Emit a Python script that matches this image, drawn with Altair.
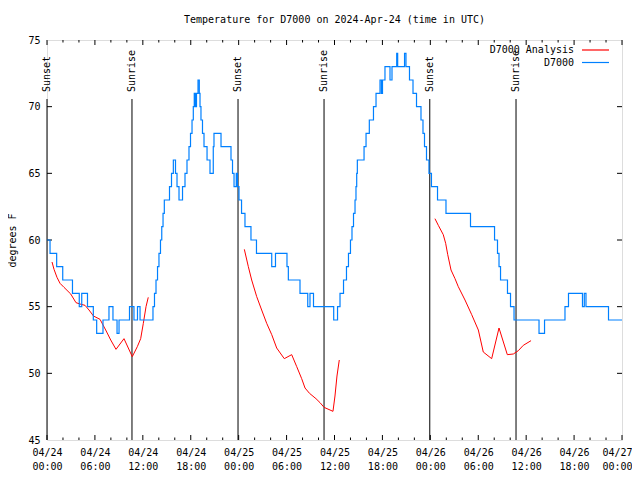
import altair as alt
import pandas as pd

FONT = "DejaVu Sans Mono"
W, H = 575, 400
BASE = pd.Timestamp("2024-04-24T00:00:00Z")

# ---- D7000 observations: change points (hours after 04/24 00:00 UTC, deg F)
obs_hours = [
    0.00, 0.38, 1.21, 1.97, 3.19, 4.04, 4.35, 5.07, 5.80, 6.22,
    7.01, 7.76, 8.26, 8.77, 9.02, 10.33, 10.89, 11.33, 11.65, 13.27,
    13.46, 13.65, 13.84, 14.02, 14.21, 14.37, 14.53, 14.69, 15.34, 15.59,
    15.82, 16.09, 16.28, 16.53, 16.97, 17.28, 17.53, 17.78, 17.97, 18.16,
    18.32, 18.44, 18.59, 18.72, 18.91, 19.07, 19.16, 19.28, 19.47, 19.66,
    20.04, 20.41, 20.82, 20.91, 21.79, 23.04, 23.23, 23.42, 23.70, 23.85,
    24.04, 24.36, 24.79, 25.54, 26.23, 28.14, 28.61, 30.05, 30.22, 31.68,
    32.65, 32.93, 33.37, 35.90, 36.38, 36.69, 37.13, 37.50, 37.75, 38.00,
    38.19, 38.38, 38.57, 38.69, 38.78, 38.86, 39.70, 39.95, 40.36, 40.88,
    41.20, 41.70, 41.88, 42.01, 42.32, 42.95, 43.20, 43.79, 43.91, 44.77,
    44.95, 45.39, 45.83, 46.27, 46.83, 47.08, 47.27, 47.52, 47.83, 48.14,
    48.90, 49.96, 53.03, 56.04, 56.41, 56.60, 56.79, 57.66, 58.04, 58.48,
    61.61, 62.30, 64.86, 65.30, 67.05, 67.28, 67.49, 70.31, 72.00,
]
obs_temp = [
    60, 59, 58, 57, 56, 55, 56, 55, 54, 53,
    54, 55, 54, 53, 54, 55, 54, 55, 54, 55,
    56, 57, 58, 59, 60, 61, 62, 63, 64, 65,
    66, 65, 64, 63, 64, 65, 66, 67, 68, 69,
    70, 71, 70, 71, 72, 71, 70, 69, 68, 67,
    66, 65, 67, 68, 67, 66, 65, 64, 65, 64,
    63, 62, 61, 60, 59, 58, 59, 58, 57, 56,
    55, 56, 55, 54, 55, 56, 57, 58, 59, 60,
    61, 62, 63, 64, 65, 66, 67, 68, 69, 70,
    71, 72, 71, 72, 73, 72, 73, 74, 73, 74,
    73, 72, 71, 70, 69, 68, 67, 66, 65, 64,
    63, 62, 61, 60, 59, 58, 57, 56, 55, 54,
    53, 54, 55, 56, 55, 56, 55, 54, 54,
]

# ---- D7000 Analysis: three separate runs
ana1_hours = [0.63, 0.88, 1.25, 1.63, 2.13, 2.97, 3.63, 4.13, 4.76, 5.26, 5.82,
              6.64, 7.35, 7.98, 8.64, 9.64, 10.68, 11.31, 11.73, 12.06, 12.40, 12.68]
ana1_temp = [58.35, 57.8, 57.2, 56.75, 56.45, 55.95, 55.3, 55.2, 55.1, 54.75, 54.3,
             54.05, 53.25, 52.5, 51.8, 52.6, 51.25, 52.0, 52.6, 53.75, 55.0, 55.7]
ana2_hours = [24.71, 25.21, 25.63, 26.26, 26.88, 27.51, 28.14, 28.76, 29.71, 30.64, 31.27,
              31.89, 32.31, 32.87, 33.68, 34.19, 34.69, 35.44, 35.81, 36.06, 36.31, 36.60]
ana2_temp = [59.3, 58.0, 57.0, 55.75, 54.75, 53.75, 52.9, 51.9, 51.1, 51.4, 50.5,
             49.6, 48.9, 48.5, 48.1, 47.8, 47.45, 47.25, 47.15, 48.3, 49.8, 51.0]
ana3_hours = [48.58, 49.00, 49.62, 49.92, 50.18, 50.59, 51.09, 51.50, 52.34, 53.18,
              54.01, 54.63, 55.68, 56.60, 57.64, 58.39, 59.02, 59.64, 60.61]
ana3_temp = [61.6, 61.1, 60.4, 59.75, 58.9, 57.75, 57.1, 56.5, 55.5, 54.4,
             53.25, 51.6, 51.1, 53.4, 51.4, 51.45, 51.7, 52.1, 52.45]

sun_hours = [0.0, 10.64, 23.92, 34.69, 47.93, 58.73]
sun_labels = ["Sunset", "Sunrise", "Sunset", "Sunrise", "Sunset", "Sunrise"]

series_names = ["D7000 Analysis", "D7000"]
series_colors = ["#ff0000", "#0080ff"]

x_major_hours = list(range(0, 73, 6))
x_minor_hours = [h for h in range(0, 73, 2) if h % 6 != 0]
y_values = [45, 50, 55, 60, 65, 70, 75]
y_inner = [50, 55, 60, 65, 70]

assert len(obs_hours) == len(obs_temp)


def iso(hours):
    return [(BASE + pd.to_timedelta(h, unit="h")).strftime("%Y-%m-%dT%H:%M:%SZ") for h in hours]


def ms(hours):
    return [int((BASE + pd.to_timedelta(h, unit="h")).timestamp() * 1000) for h in hours]


obs_df = pd.DataFrame({"time": iso(obs_hours), "temp": obs_temp, "series": "D7000"})
ana_df = pd.concat([
    pd.DataFrame({"time": iso(h), "temp": t, "series": "D7000 Analysis", "seg": i})
    for i, (h, t) in enumerate([(ana1_hours, ana1_temp), (ana2_hours, ana2_temp), (ana3_hours, ana3_temp)])
])
sun_df = pd.DataFrame({"time": iso(sun_hours), "label": sun_labels})
xmaj_df = pd.DataFrame({"time": iso(x_major_hours)})
xmin_df = pd.DataFrame({"time": iso(x_minor_hours)})
yt_df = pd.DataFrame({"temp": y_inner})
one = pd.DataFrame({"k": [0]})

last_ms = ms([72])[0]
x_scale = alt.Scale(type="utc", domain=ms([0, 72]), nice=False)
y_scale = alt.Scale(domain=[45, 75], nice=False, zero=False)
color_scale = alt.Scale(domain=series_names, range=series_colors)

x_axis = alt.Axis(
    title=None, values=ms(x_major_hours),
    labelExpr="[utcFormat(datum.value, '%m/%d'), utcFormat(datum.value, '%H:%M')]",
    ticks=False, domain=False, grid=False, labelFont=FONT, labelFontSize=10,
    labelColor="black", labelPadding=7, labelLineHeight=14, labelOverlap=False,
    labelFlush=False, labelBaseline="top", labelAlign="center",
    labelOffset={"condition": {"test": f"datum.value >= {last_ms}", "value": -5}, "value": 0},
)
y_axis = alt.Axis(
    title="degrees F", values=y_values, ticks=False, domain=False, grid=False,
    labelFont=FONT, labelFontSize=10, labelColor="black", labelPadding=7,
    titleFont=FONT, titleFontSize=10, titleFontWeight="normal", titleColor="black",
    titleX=-35, titleY=200, titleAngle=270, titleAlign="center", titleBaseline="middle",
)

X = alt.X("time:T", scale=x_scale, axis=x_axis)
Y = alt.Y("temp:Q", scale=y_scale, axis=y_axis)

blue = alt.Chart(obs_df).mark_line(interpolate="step-after", strokeWidth=1.2).encode(
    x=X, y=Y, color=alt.Color("series:N", scale=color_scale, legend=None))
red = alt.Chart(ana_df).mark_line(strokeWidth=1).encode(
    x=X, y=Y, detail="seg:N", color=alt.Color("series:N", scale=color_scale, legend=None))

sun_rule = alt.Chart(sun_df).mark_rule(color="black", strokeWidth=1).encode(
    x=X, y=alt.value(59), y2=alt.value(H))
sun_text = alt.Chart(sun_df).mark_text(
    angle=270, align="left", baseline="middle", font=FONT, fontSize=10, color="black"
).encode(x=X, y=alt.value(52), text="label:N")

ticks = []
for yy, y2 in [(H, H - 5), (0, 5)]:
    ticks.append(alt.Chart(xmaj_df).mark_rule(color="black").encode(x=X, y=alt.value(yy), y2=alt.value(y2)))
for yy, y2 in [(H, H - 2.5), (0, 2.5)]:
    ticks.append(alt.Chart(xmin_df).mark_rule(color="black").encode(x=X, y=alt.value(yy), y2=alt.value(y2)))
for xx, x2 in [(0, 5), (W, W - 5)]:
    ticks.append(alt.Chart(yt_df).mark_rule(color="black").encode(y=Y, x=alt.value(xx), x2=alt.value(x2)))

legend_layers = []
for i, (name, col) in enumerate(zip(series_names, series_colors)):
    yy = 10 + i * 12.5
    legend_layers.append(alt.Chart(one).mark_text(
        align="right", baseline="middle", font=FONT, fontSize=10, color="black"
    ).encode(x=alt.value(527), y=alt.value(yy), text=alt.value(name)))
    legend_layers.append(alt.Chart(one).mark_rule(color=col, strokeWidth=1.2).encode(
        x=alt.value(535), x2=alt.value(562), y=alt.value(yy)))

chart = alt.layer(
    sun_rule, sun_text, *ticks, red, blue, *legend_layers
).properties(
    width=W, height=H,
    autosize=alt.AutoSizeParams(type="none"),
    padding={"left": 39, "top": 32, "right": 10, "bottom": 32},
    title=alt.TitleParams(
        text="Temperature for D7000 on 2024-Apr-24 (time in UTC)",
        font=FONT, fontSize=10, fontWeight="normal", color="black",
        anchor="middle", offset=10,
    ),
).configure_view(stroke="black", strokeWidth=1).configure(background="white")

chart.save("out.html", embed_options={"renderer": "svg", "actions": False})
